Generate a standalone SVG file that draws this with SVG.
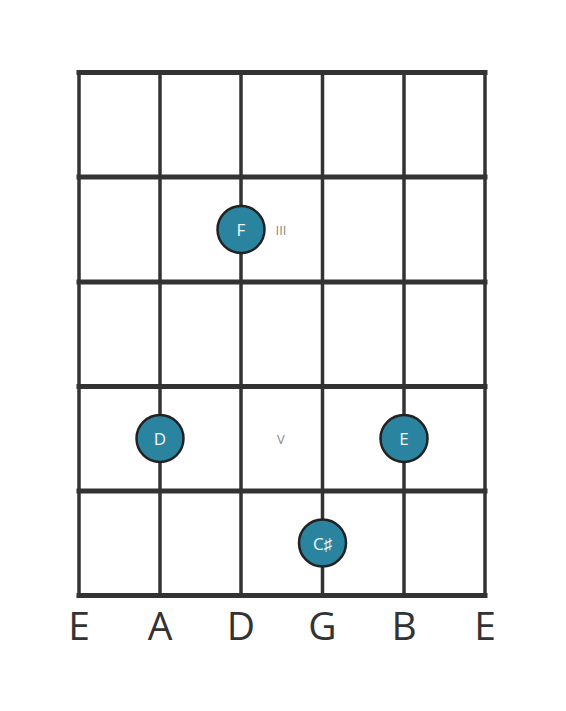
<svg xmlns="http://www.w3.org/2000/svg" width="566" height="711" viewBox="0 0 566 711">
<style>
.str{stroke:#333;stroke-width:3.5;fill:none}
.fret{stroke:#333;stroke-width:5;fill:none;stroke-linecap:square}
.dot{fill:#2a84a0;stroke:#222;stroke-width:2.5}
.nt{font-family:"Open Sans",sans-serif;font-size:17px;fill:#f2f7f9;text-anchor:middle;dominant-baseline:central}
.pos{font-family:"Open Sans",sans-serif;font-size:13px;fill:#888;text-anchor:middle;dominant-baseline:central}
.lbl{font-family:"Open Sans",sans-serif;font-size:39px;fill:#333;text-anchor:middle}
</style>
<rect width="566" height="711" fill="#fff"/>
<g id="connectors">
<line class="str" x1="79" y1="72.5" x2="79" y2="595.5"/>
<line class="str" x1="160" y1="72.5" x2="160" y2="595.5"/>
<line class="str" x1="241" y1="72.5" x2="241" y2="595.5"/>
<line class="str" x1="322.5" y1="72.5" x2="322.5" y2="595.5"/>
<line class="str" x1="404" y1="72.5" x2="404" y2="595.5"/>
<line class="str" x1="485" y1="72.5" x2="485" y2="595.5"/>
<line class="fret" x1="79" y1="72.5" x2="485" y2="72.5"/>
<line class="fret" x1="79" y1="177" x2="485" y2="177"/>
<line class="fret" x1="79" y1="282" x2="485" y2="282"/>
<line class="fret" x1="79" y1="386.5" x2="485" y2="386.5"/>
<line class="fret" x1="79" y1="491" x2="485" y2="491"/>
<line class="fret" x1="79" y1="595.5" x2="485" y2="595.5"/>
</g>
<g id="note-F"><circle class="dot" cx="241" cy="229.5" r="23.5"/><text class="nt" x="241" y="229.5">F</text></g>
<g id="note-D"><circle class="dot" cx="160" cy="438.5" r="23.5"/><text class="nt" x="160" y="438.5">D</text></g>
<g id="note-E"><circle class="dot" cx="404" cy="438.5" r="23.5"/><text class="nt" x="404" y="438.5">E</text></g>
<g id="note-Cs"><circle class="dot" cx="322.5" cy="543" r="23.5"/><text class="nt" x="322.5" y="543">C♯</text></g>
<g id="pos-III"><text class="pos" x="281" y="230">III</text></g>
<g id="pos-V"><text class="pos" x="281" y="439">V</text></g>
<g id="labels">
<text class="lbl" x="79" y="640">E</text>
<text class="lbl" x="160" y="640">A</text>
<text class="lbl" x="241" y="640">D</text>
<text class="lbl" x="322.5" y="640">G</text>
<text class="lbl" x="404" y="640">B</text>
<text class="lbl" x="485" y="640">E</text>
</g>
</svg>
